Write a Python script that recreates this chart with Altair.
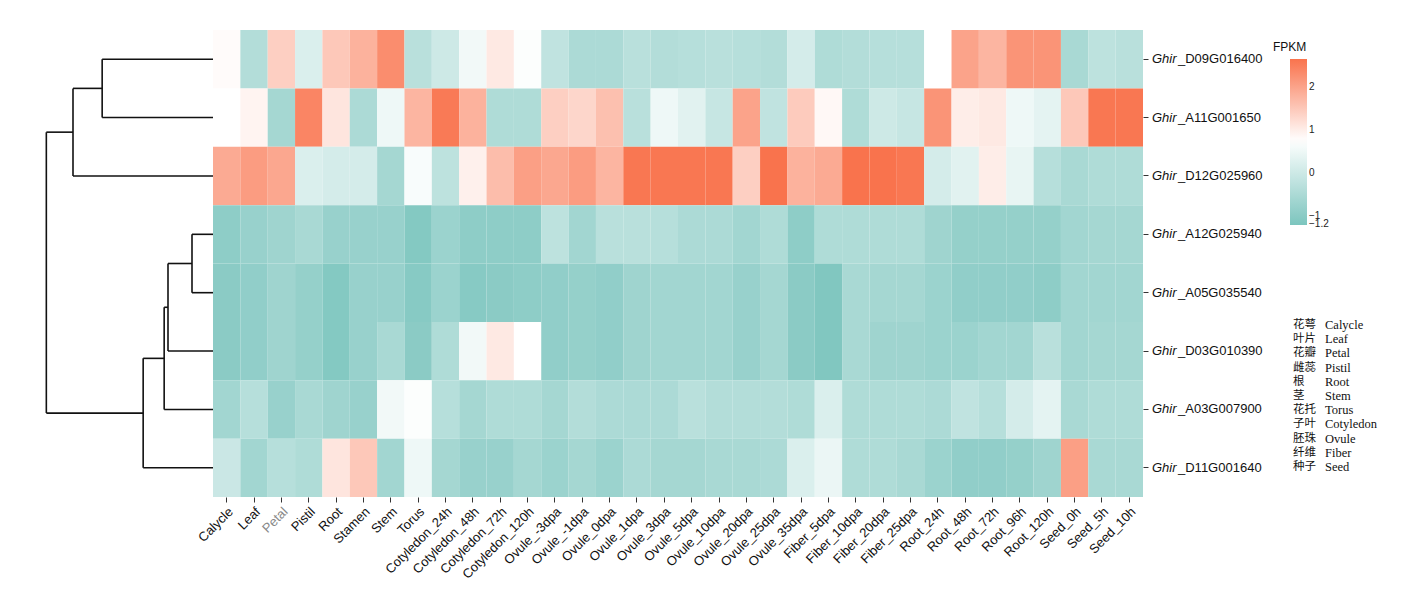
import altair as alt
import pandas as pd

samples = ["Calycle", "Leaf", "Petal", "Pistil", "Root", "Stamen", "Stem", "Torus",
           "Cotyledon_24h", "Cotyledon_48h", "Cotyledon_72h", "Cotyledon_120h",
           "Ovule_-3dpa", "Ovule_-1dpa", "Ovule_0dpa", "Ovule_1dpa", "Ovule_3dpa",
           "Ovule_5dpa", "Ovule_10dpa", "Ovule_20dpa", "Ovule_25dpa", "Ovule_35dpa",
           "Fiber_5dpa", "Fiber_10dpa", "Fiber_20dpa", "Fiber_25dpa",
           "Root_24h", "Root_48h", "Root_72h", "Root_96h", "Root_120h",
           "Seed_0h", "Seed_5h", "Seed_10h"]

genes = ["Ghir_D09G016400", "Ghir_A11G001650", "Ghir_D12G025960", "Ghir_A12G025940",
         "Ghir_A05G035540", "Ghir_D03G010390", "Ghir_A03G007900", "Ghir_D11G001640"]

v_D09G016400 = [0.8, -0.4, 1.4, 0.2, 1.5, 1.8, 2.3, -0.3, 0.0, 0.55, 1.05, 0.7,
                -0.2, -0.5, -0.5, -0.3, -0.4, -0.35, -0.3, -0.35, -0.4, 0.1,
                -0.45, -0.4, -0.35, -0.35, 0.75, 2.0, 1.75, 2.2, 2.2, -0.55, -0.25, -0.3]
v_A11G001650 = [0.75, 0.9, -0.6, 2.4, 1.1, -0.5, 0.5, 1.75, 2.55, 1.8, -0.45, -0.45,
                1.4, 1.3, 1.6, -0.3, 0.5, 0.3, -0.1, 2.0, -0.2, 1.45,
                0.85, -0.45, 0.0, -0.1, 2.2, 1.0, 1.05, 0.5, 0.35, 1.5, 2.6, 2.6]
v_D12G025960 = [1.9, 2.1, 1.95, 0.2, 0.1, 0.1, -0.6, 0.65, -0.25, 0.95, 1.65, 2.05,
                1.95, 2.1, 1.75, 2.6, 2.6, 2.6, 2.6, 1.4, 2.65, 1.8,
                1.9, 2.65, 2.65, 2.6, 0.1, 0.3, 1.0, 0.4, -0.35, -0.55, -0.45, -0.45]
v_A12G025940 = [-0.95, -0.8, -0.7, -0.55, -0.8, -0.8, -0.8, -1.1, -0.75, -0.95, -0.95, -0.95,
                -0.25, -0.65, -0.3, -0.3, -0.35, -0.5, -0.5, -0.65, -0.45, -0.95,
                -0.45, -0.45, -0.45, -0.45, -0.7, -0.85, -0.85, -0.85, -0.85, -0.65, -0.6, -0.6]
v_A05G035540 = [-1.0, -0.9, -0.7, -0.85, -1.1, -0.8, -0.8, -1.05, -0.75, -1.05, -1.0, -0.95,
                -0.9, -0.85, -0.9, -0.7, -0.65, -0.65, -0.65, -0.8, -0.6, -1.0,
                -1.15, -0.55, -0.6, -0.6, -0.75, -0.9, -0.9, -0.9, -0.95, -0.65, -0.65, -0.65]
v_D03G010390 = [-1.0, -0.9, -0.7, -0.85, -1.1, -0.8, -0.55, -1.0, -0.45, 0.55, 1.05, 0.75,
                -0.9, -0.85, -0.9, -0.7, -0.65, -0.65, -0.65, -0.8, -0.6, -1.0,
                -1.15, -0.55, -0.7, -0.7, -0.75, -0.75, -0.65, -0.65, -0.3, -0.65, -0.6, -0.6]
v_A03G007900 = [-0.65, -0.35, -0.8, -0.55, -0.7, -0.8, 0.55, 0.7, -0.35, -0.6, -0.45, -0.45,
                -0.6, -0.4, -0.5, -0.5, -0.5, -0.3, -0.4, -0.4, -0.4, -0.45,
                0.2, -0.45, -0.45, -0.45, -0.5, -0.2, -0.35, 0.1, 0.35, -0.55, -0.45, -0.45]
v_D11G001640 = [-0.05, -0.65, -0.35, -0.45, 1.1, 1.5, -0.65, 0.5, -0.6, -0.8, -0.8, -0.6,
                -0.75, -0.6, -0.75, -0.5, -0.6, -0.6, -0.55, -0.55, -0.5, 0.2,
                0.45, -0.45, -0.45, -0.55, -0.75, -0.9, -0.9, -0.85, -0.7, 2.05, -0.55, -0.55]

values = [v_D09G016400, v_A11G001650, v_D12G025960, v_A12G025940,
          v_A05G035540, v_D03G010390, v_A03G007900, v_D11G001640]

# dendrogram linkage (leaf ids 0..7 = gene rows, new nodes 8..)
merge_left = [0, 8, 3, 10, 11, 12, 9]
merge_right = [1, 2, 4, 5, 6, 7, 13]
merge_height = [6.65, 8.4, 1.26, 2.7, 2.93, 4.19, 10.0]

cn_tissues = ["花萼", "叶片", "花瓣", "雌蕊", "根", "茎", "花托", "子叶", "胚珠", "纤维", "种子"]
en_tissues = ["Calycle", "Leaf", "Petal", "Pistil", "Root", "Stem", "Torus",
              "Cotyledon", "Ovule", "Fiber", "Seed"]

legend_values = [-1.2, -1, 0, 1, 2]

# ---- tables ----
recs = []
for gi, g in enumerate(genes):
    for si, s in enumerate(samples):
        recs.append({"gene": g, "sample": s, "FPKM": values[gi][si]})
df = pd.DataFrame(recs)

gdf = pd.DataFrame({"gene": genes,
                    "prefix": [g.split("_")[0] for g in genes],
                    "suffix": ["_" + g.split("_", 1)[1] for g in genes]})

ny = {i: i + 0.5 for i in range(len(genes))}
nh = {i: 0.0 for i in range(len(genes))}
segs = []
for m, (l, r, h) in enumerate(zip(merge_left, merge_right, merge_height)):
    nid = len(genes) + m
    segs.append({"x0": h, "x1": h, "y0": ny[l], "y1": ny[r]})
    segs.append({"x0": nh[l], "x1": h, "y0": ny[l], "y1": ny[l]})
    segs.append({"x0": nh[r], "x1": h, "y0": ny[r], "y1": ny[r]})
    ny[nid] = (ny[l] + ny[r]) / 2
    nh[nid] = h
seg_df = pd.DataFrame(segs)

W, H = 930, 467
FONT = "Liberation Sans"

dendro = alt.Chart(seg_df).mark_rule(color="#111111", strokeWidth=1.6).encode(
    x=alt.X("x0:Q", scale=alt.Scale(domain=[0, 12], reverse=True), axis=None),
    x2="x1:Q",
    y=alt.Y("y0:Q", scale=alt.Scale(domain=[0, len(genes)], reverse=True), axis=None),
    y2="y1:Q",
).properties(width=200, height=H)

cscale = alt.Scale(domain=[-1.22, 0.75, 2.65],
                   range=["#7cc5be", "#ffffff", "#f9734d"],
                   interpolate="rgb")

heat = alt.Chart(df).mark_rect().encode(
    x=alt.X("sample:N", sort=samples,
            scale=alt.Scale(paddingInner=0, paddingOuter=0),
            axis=alt.Axis(title=None, labelAngle=-45, labelFontSize=13, labelFont=FONT,
                          labelColor=alt.condition("datum.value == 'Petal'",
                                                   alt.value("#888888"), alt.value("#111111")),
                          domain=False, tickSize=5, tickColor="#333333", labelPadding=3)),
    y=alt.Y("gene:N", sort=genes,
            scale=alt.Scale(paddingInner=0, paddingOuter=0),
            axis=alt.Axis(orient="right", labels=False, title=None, domain=False,
                          tickSize=5, tickColor="#333333")),
    color=alt.Color("FPKM:Q", scale=cscale,
                    legend=alt.Legend(title=None, orient="none", legendX=1277, legendY=29,
                                      gradientLength=166, gradientThickness=17,
                                      values=legend_values, format=".1~f",
                                      labelFontSize=10, labelBaseline="middle",
                                      labelFont=FONT, labelColor="#222222",
                                      labelOverlap=False, padding=0)),
)

lab_pre = alt.Chart(gdf).mark_text(align="left", baseline="middle", fontStyle="italic",
                                   fontSize=13, font=FONT, color="#111111").encode(
    y=alt.Y("gene:N", sort=genes), x=alt.value(W + 9), text="prefix:N")
lab_suf = alt.Chart(gdf).mark_text(align="left", baseline="middle",
                                   fontSize=13, font=FONT, color="#111111").encode(
    y=alt.Y("gene:N", sort=genes), x=alt.value(W + 35), text="suffix:N")

one = pd.DataFrame({"k": [0]})
fpkm_title = alt.Chart(one).mark_text(align="left", baseline="middle", fontSize=12,
                                      font=FONT, color="#111111").encode(
    x=alt.value(1060), y=alt.value(17), text=alt.value("FPKM"))
cn_text = alt.Chart(one).mark_text(align="left", baseline="middle", fontSize=11.5,
                                   font="Noto Sans CJK SC", lineBreak="\n",
                                   lineHeight=14.2, color="#111111").encode(
    x=alt.value(1080), y=alt.value(295), text=alt.value("\n".join(cn_tissues)))
en_text = alt.Chart(one).mark_text(align="left", baseline="middle", fontSize=12.5,
                                   font="Liberation Serif", lineBreak="\n",
                                   lineHeight=14.2, color="#111111").encode(
    x=alt.value(1112), y=alt.value(295), text=alt.value("\n".join(en_tissues)))

right = alt.layer(heat, lab_pre, lab_suf, fpkm_title, cn_text, en_text).properties(
    width=W, height=H)

chart = alt.hconcat(dendro, right, spacing=0, bounds="flush").properties(
    padding={"left": 5, "top": 22, "right": 5, "bottom": 5},
    background="white",
).configure_view(stroke=None)

chart.save("out.html", embed_options={"renderer": "svg", "actions": False})
